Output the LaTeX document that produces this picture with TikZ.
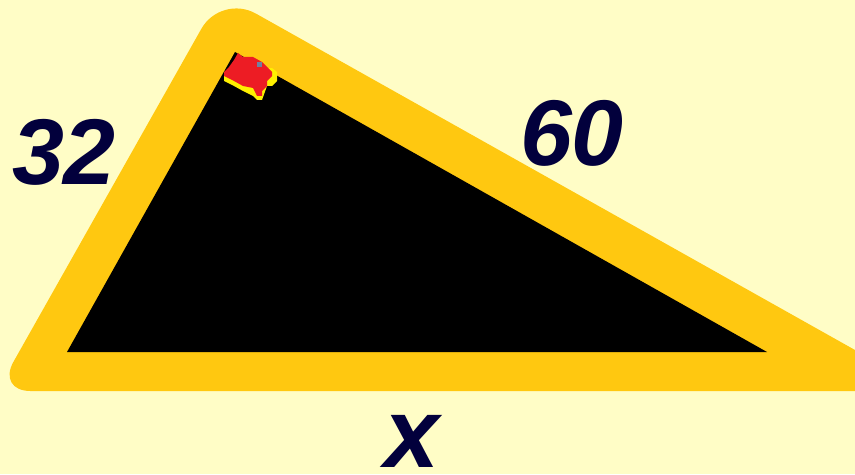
\documentclass[tikz,border=0pt]{standalone}
\usepackage{fontspec}
\setmainfont{Liberation Sans}
\definecolor{bg}{RGB}{255,253,198}
\definecolor{gold}{RGB}{255,200,16}
\definecolor{navy}{RGB}{2,0,60}
\definecolor{mred}{RGB}{237,28,36}
\definecolor{lyel}{RGB}{255,240,0}
\definecolor{gblue}{RGB}{112,128,160}
\tikzset{lbl/.style={text=navy, inner sep=0pt, font=\bfseries\itshape}}
\begin{document}
\begin{tikzpicture}[x=0.75pt,y=-0.75pt]
\fill[bg] (0,0) rectangle (855,474);
\useasboundingbox (0,0) rectangle (855,474);
\begin{scope}
\clip (0,0) rectangle (855,474);
% golden border
\fill[gold] (928,391) [rounded corners=25pt] -- (-3,391) [rounded corners=30pt] -- (221,-6) [sharp corners] -- cycle;
% black triangle
\fill[black] (67,352) coordinate (B) -- (235,52) coordinate (A) -- (767,352) coordinate (C) -- cycle;
\end{scope}
% right angle marker
\fill[lyel] (224,72) -- (224,81) -- (234,86) -- (243,91) -- (253,96) -- (257,100) -- (262,100) -- (267,86) -- (272,86) -- (277,81) -- (277,72) -- (272,68) -- cycle;
\fill[mred] (238,53) -- (243,57) -- (253,57) -- (262,62) -- (267,67) -- (272,72) -- (272,76) -- (267,81) -- (267,86) -- (262,91) -- (262,96) -- (257,96) -- (253,88) -- (243,86) -- (234,81) -- (224,76) -- (224,72) -- (229,67) -- (234,60) -- cycle;
\fill[gblue] (257,62) rectangle (262,67);
% labels
\node[lbl, font=\fontsize{70pt}{70pt}\selectfont\bfseries\itshape] (l32) at (64,152.5) {32};
\node[lbl, font=\fontsize{70pt}{70pt}\selectfont\bfseries\itshape] (l60) at (572,133.5) {60};
\node[lbl, font=\fontsize{74pt}{74pt}\selectfont\bfseries\itshape] (lx) at (412,441) {x};
\end{tikzpicture}
\end{document}
